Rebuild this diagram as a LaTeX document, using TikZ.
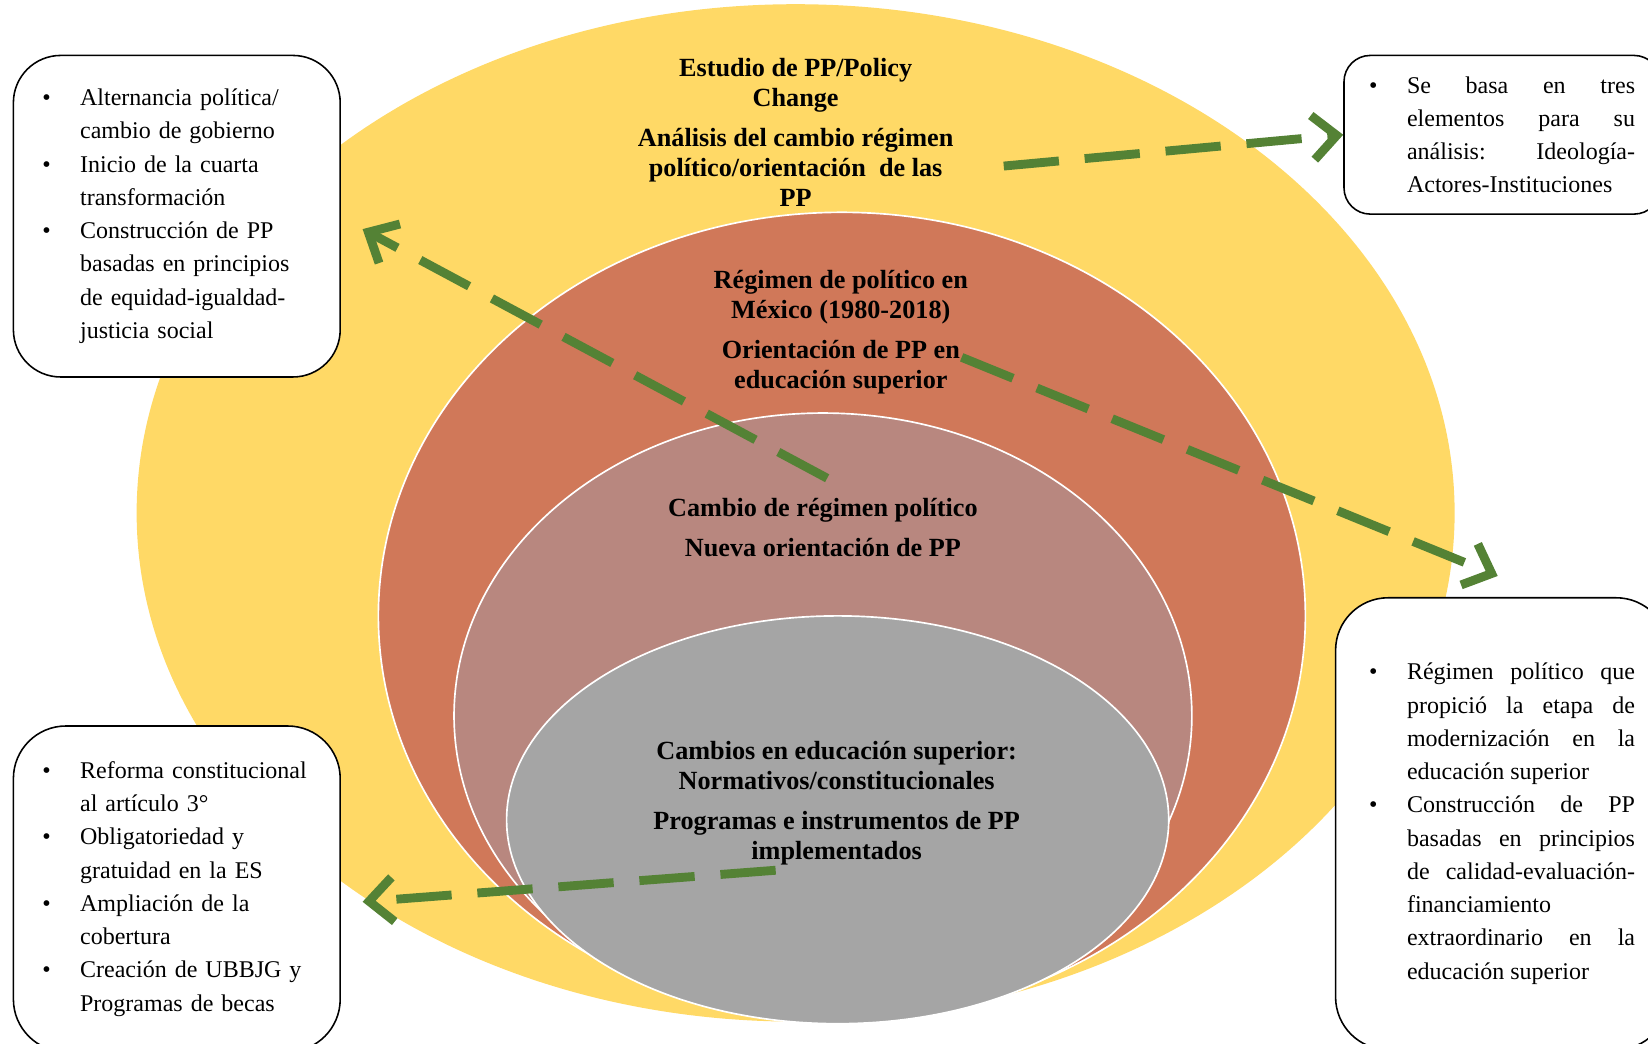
\documentclass[tikz,border=0pt]{standalone}
\usepackage{fontspec}
\setmainfont{Liberation Serif}
\usetikzlibrary{arrows.meta, positioning, calc}

\definecolor{yelFill}{HTML}{FFD966}
\definecolor{oraFill}{HTML}{D07859}
\definecolor{pinkFill}{HTML}{B8877F}
\definecolor{grayFill}{HTML}{A5A5A5}
\definecolor{arrGreen}{HTML}{548235}

\setlength{\parskip}{0pt}
\hyphenpenalty=10000
% bullet item with hanging indent
\newcommand{\bitem}[1]{\noindent\hangindent=0.72cm\hangafter=1\makebox[0.72cm][l]{\textbullet}#1\par}
% lift the text a little inside its box
\newcommand{\boxend}[1]{\vspace{#1}}

\begin{document}
\begin{tikzpicture}[x=0.02cm, y=-0.02cm,
		ring/.style={draw=white, line width=0.9pt},
		head/.style={align=center, font=\bfseries\fontsize{14.2}{16.2}\selectfont},
		box/.style={draw=black, line width=0.85pt, fill=white, anchor=north west,
			inner ysep=0pt, font=\fontsize{13}{18}\selectfont},
		arr/.style={draw=arrGreen, line width=4.8pt, dash pattern=on 30pt off 14pt,
			-{Straight Barb[length=13pt,width=24pt]}}]
		
		% Page size
		\useasboundingbox (0,0) rectangle (1568,993);
		\clip (0,0) rectangle (1568,993);
		
		% Nested ellipses
		\fill[yelFill] (757,488) ellipse [x radius=627, y radius=484];
		\filldraw[ring, fill=oraFill] (801,586) ellipse [x radius=441, y radius=384];
		\filldraw[ring, fill=pinkFill] (783,681) ellipse [x radius=351, y radius=288];
		\filldraw[ring, fill=grayFill] (797,780) ellipse [x radius=315, y radius=194];
		
		% Texts of the ellipses
		\node[head] (yelText) at (757,126) {Estudio de PP/Policy\\Change\\[5.4pt]
			Análisis del cambio régimen\\político/orientación\ \ de las\\PP};
		\node[head] (oraText) at (800,316) {Régimen de político en\\México (1980-2018)\\[5.4pt]
			Orientación de PP en\\educación superior};
		\node[head] (pinkText) at (783,502) {Cambio de régimen político\\[5.4pt]
			Nueva orientación de PP};
		\node[head] (grayText) at (796,764) {Cambios en educación superior:\\Normativos/constitucionales\\[5.4pt]
			Programas e instrumentos de PP\\implementados};
		
		% Boxes
		\node[box, rounded corners=0.9cm, inner xsep=0.55cm, text width=5.12cm,
			minimum height=6.12cm, align=left] (boxLT) at (12,52) {%
			\bitem{Alternancia política/\newline cambio de gobierno}
			\bitem{Inicio de la cuarta\newline transformación}
			\bitem{Construcción de PP\newline basadas en principios\newline de equidad-igualdad-\newline justicia social}\boxend{0cm}};
		\node[box, rounded corners=0.5cm, inner xsep=0.48cm, text width=5.06cm,
			minimum height=3.02cm, align=justify] (boxRT) at (1278,52) {%
			\bitem{Se basa en tres\linebreak elementos para su\linebreak análisis: Ideología-\linebreak Actores-Instituciones}\boxend{0.2cm}};
		\node[box, rounded corners=1cm, inner xsep=0.55cm, text width=5.12cm,
			minimum height=6.2cm, align=left] (boxLB) at (12,690) {%
			\bitem{Reforma constitucional\newline al artículo 3°}
			\bitem{Obligatoriedad y\newline gratuidad en la ES}
			\bitem{Ampliación de la\newline cobertura}
			\bitem{Creación de UBBJG y\newline Programas de becas}\boxend{0.2cm}};
		\node[box, rounded corners=1cm, inner xsep=0.64cm, text width=5.06cm,
			minimum height=8.6cm, align=justify] (boxRB) at (1270,568) {%
			\bitem{Régimen político que\linebreak propició la etapa de\linebreak modernización en la\linebreak educación superior}
			\bitem{Construcción de PP\linebreak basadas en principios\linebreak de calidad-evaluación-\linebreak financiamiento\newline extraordinario en la\linebreak educación superior}\boxend{0.2cm}};
		
		% Arrow ends
		\coordinate (aStart) at (955,158);
		\coordinate (bStart) at (787,455);
		\coordinate (bEnd) at (345,218);
		\coordinate (cStart) at (915,340);
		\coordinate (cEnd) at (1425,548);
		\coordinate (dStart) at (738,828);
		\coordinate (dEnd) at (345,858);
		
		% Dashed arrows
		\draw[arr] (aStart) -- (boxRT.west);
		\draw[arr] (bStart) -- (bEnd);
		\draw[arr] (cStart) -- (cEnd);
		\draw[arr] (dStart) -- (dEnd);
		
	\end{tikzpicture}
\end{document}
